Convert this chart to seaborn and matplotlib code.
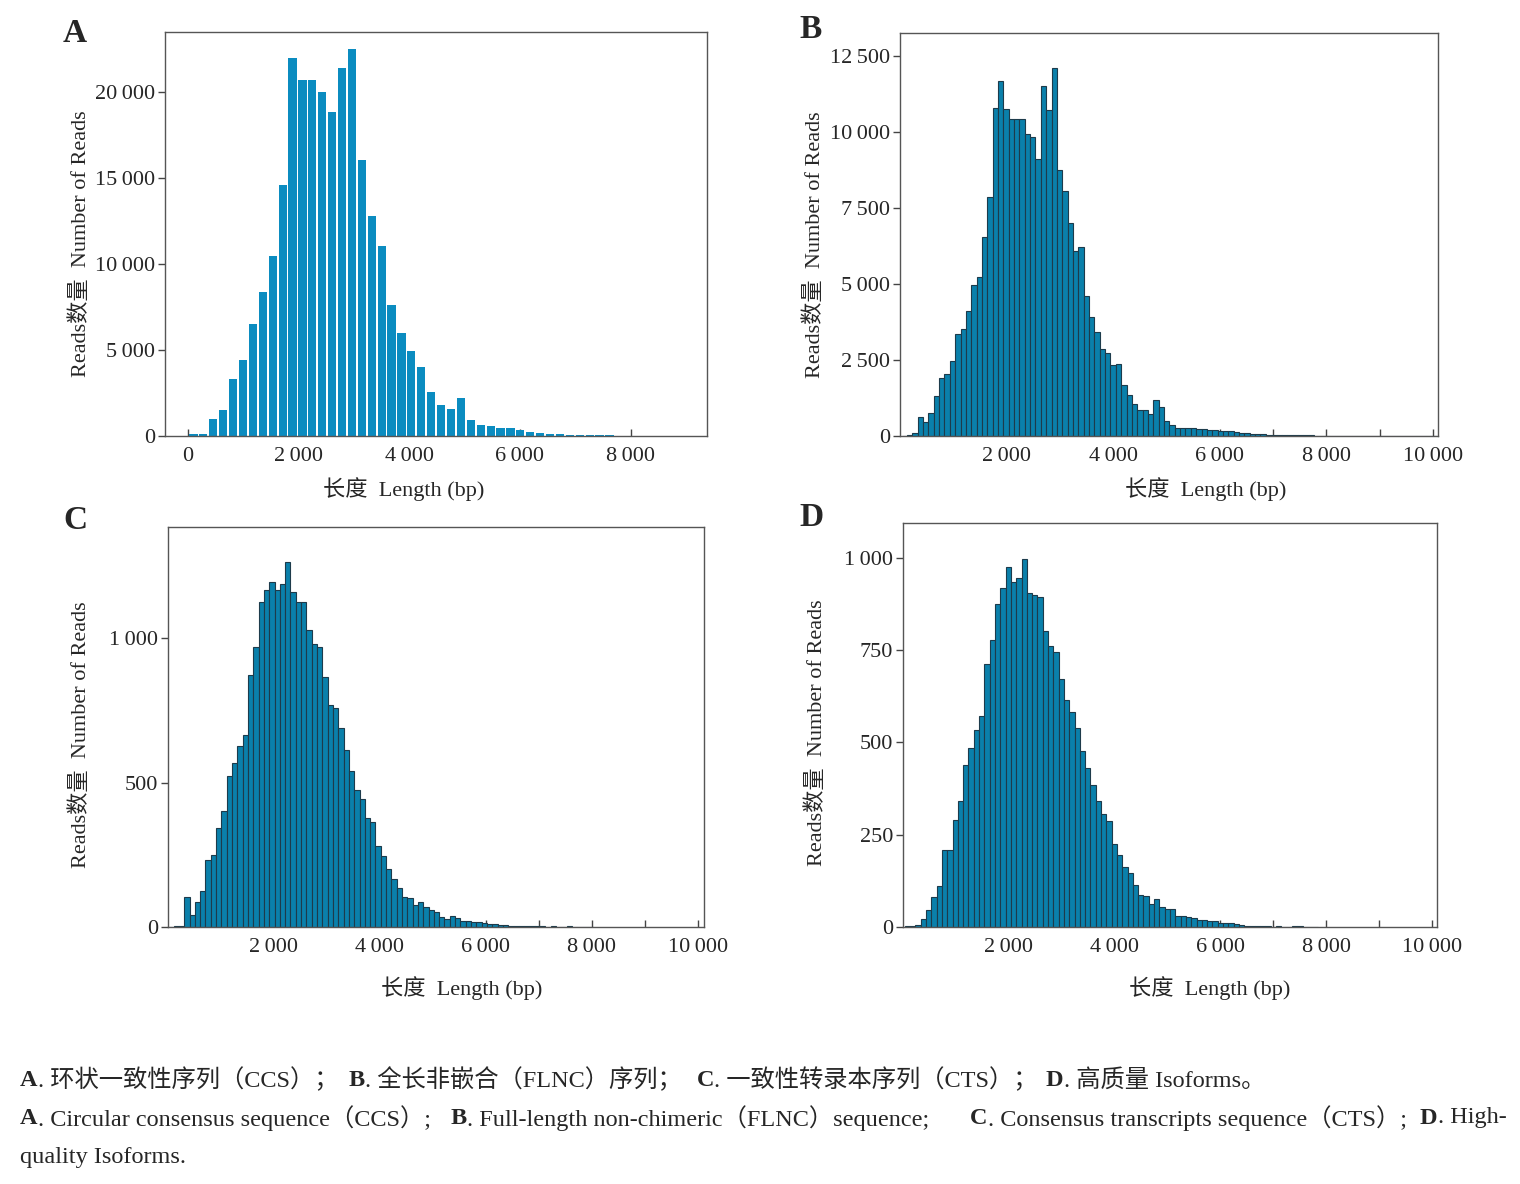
import numpy as np
import pandas as pd
import matplotlib
matplotlib.use("Agg")
import matplotlib.pyplot as plt
import seaborn as sns

# --- data -----------------------------------------------------------------
# A: circular consensus sequences, bins of ~179 bp
a_start, a_width = 10, 179
a_counts = [117, 136, 974, 1519, 3312, 4422, 6526, 8396, 10461, 14610,
            21973, 20688, 20688, 19986, 18857, 21389, 22499, 16071, 12818, 11065,
            7636, 5980, 4967, 3993, 2532, 1792, 1597, 2201, 935, 623,
            604, 467, 467, 370, 214, 175, 136, 97, 78, 58,
            58, 39, 39]

# B: FLNC, bins of ~100 bp
b_start, b_width = 30, 100.5
b_counts = [10, 30, 110, 641, 453, 752, 1316, 1891, 2024, 2466,
            3340, 3517, 4103, 4955, 5231, 6536, 7864, 10784, 11668, 10761,
            10407, 10430, 10430, 9932, 9821, 9102, 11502, 10706, 12111, 8737,
            8041, 7001, 6083, 6227, 4612, 3926, 3406, 2876, 2732, 2334,
            2356, 1670, 1338, 1062, 863, 863, 730, 1194, 940, 498,
            365, 277, 277, 277, 254, 232, 230, 200, 210, 180,
            160, 150, 120, 100, 90, 70, 60, 50, 45, 40,
            35, 30, 25, 25, 20, 30, 20, 15, 10, 10,
            8, 6, 5, 5, 4, 3, 3, 2, 2, 2,
            1, 1, 0, 1, 0, 0, 1, 0, 0, 1]

# C: consensus transcripts
c_start, c_width = 25, 100
c_counts = [0, 4, 4, 104, 43, 87, 124, 231, 251, 343,
            401, 522, 568, 628, 666, 874, 970, 1125, 1169, 1194,
            1167, 1190, 1264, 1160, 1127, 1127, 1030, 981, 970, 865,
            770, 759, 690, 614, 542, 476, 444, 378, 363, 280,
            247, 201, 166, 135, 104, 100, 77, 87, 68, 58,
            52, 33, 28, 37, 31, 22, 20, 18, 16, 15,
            12, 10, 8, 6, 5, 4, 3, 3, 2, 2,
            3, 1, 2, 1, 1, 2, 1, 0, 1, 0]

# D: high-quality isoforms
d_start, d_width = 50, 100
d_counts = [2, 4, 6, 22, 47, 81, 112, 208, 208, 291,
            342, 438, 485, 534, 571, 711, 777, 876, 917, 976,
            933, 946, 996, 905, 900, 894, 801, 760, 746, 672,
            616, 582, 539, 477, 430, 385, 342, 305, 286, 226,
            195, 163, 145, 113, 86, 83, 63, 76, 54, 49,
            49, 29, 29, 27, 24, 20, 18, 16, 16, 12,
            10, 12, 8, 6, 4, 3, 3, 2, 2, 1,
            2, 1, 1, 2, 2, 1, 0, 1]

a_yticks = [0, 5000, 10000, 15000, 20000]
b_yticks = [0, 2500, 5000, 7500, 10000, 12500]
c_yticks = [0, 500, 1000]
d_yticks = [0, 250, 500, 750, 1000]

xlabel = "长度  Length (bp)"
ylabel = "Reads数量  Number of Reads"

sns.set_theme(style="white")
plt.rcParams["font.family"] = ["Liberation Serif", "Noto Sans CJK SC", "DejaVu Sans"]
plt.rcParams["axes.edgecolor"] = "#555555"
plt.rcParams["axes.linewidth"] = 1.0

fig = plt.figure(figsize=(15.2, 11.84), dpi=100)
W, H = 1520, 1184


def box(l, r, t, b):
    return [l / W, 1 - b / H, (r - l) / W, (b - t) / H]


def fmt(v):
    return f"{v:,}".replace(",", "\u2009")


def draw(ax, start, width, counts, bars):
    n = len(counts)
    centers = start + width * (np.arange(n) + 0.5)
    df = pd.DataFrame({"length": centers, "count": np.asarray(counts, dtype=float)})
    kw = dict(data=df, x="length", weights="count", binwidth=width,
              binrange=(start, start + width * n), ax=ax, alpha=1)
    if bars == "gap":
        sns.histplot(**kw, shrink=0.83, color="#0b8cc0", edgecolor="none", linewidth=0)
    else:
        sns.histplot(**kw, color="#0a80ab", edgecolor="#1d3b4b", linewidth=0.8)


def style(ax, yticks, ylim, xlim, xticks, xlabels, lab_x, lab_y, ylab_x, ylab_y):
    ax.set_ylim(*ylim)
    ax.set_xlim(*xlim)
    ax.set_yticks(yticks, [fmt(v) for v in yticks])
    ax.set_xticks(xticks, xlabels)
    ax.tick_params(axis="y", direction="out", length=5, width=1, pad=2,
                   labelsize=16, color="#444444", left=True)
    ax.tick_params(axis="x", direction="in", length=5, width=1, pad=8,
                   labelsize=16, color="#444444", bottom=True)
    ax.set_xlabel(xlabel, fontsize=16)
    ax.set_ylabel(ylabel, fontsize=16)
    ax.xaxis.set_label_coords(lab_x, lab_y)
    ax.yaxis.set_label_coords(ylab_x, ylab_y)
    for s in ax.spines.values():
        s.set_visible(True)


axA = fig.add_axes(box(165, 707, 32, 436))
axB = fig.add_axes(box(900, 1438, 33, 436))
axC = fig.add_axes(box(168, 704, 527, 927))
axD = fig.add_axes(box(903, 1437, 523, 927))

draw(axA, a_start, a_width, a_counts, "gap")
draw(axB, b_start, b_width, b_counts, "edge")
draw(axC, c_start, c_width, c_counts, "edge")
draw(axD, d_start, d_width, d_counts, "edge")

a_xt = [0, 2000, 4000, 6000, 8000]
style(axA, a_yticks, (0, 23500), (-415, 9380), a_xt, [fmt(v) for v in a_xt],
      0.441, -0.102, -0.136, 0.475)

k_xt = list(range(1000, 10001, 1000))
k_lab = [fmt(v) if v % 2000 == 0 else "" for v in k_xt]
style(axB, b_yticks, (0, 13250), (0, 10095), k_xt, k_lab, 0.569, -0.102, -0.139, 0.475)
style(axC, c_yticks, (0, 1386), (20, 10110), k_xt, k_lab, 0.547, -0.122, -0.144, 0.48)
style(axD, d_yticks, (0, 1094), (15, 10085), k_xt, k_lab, 0.575, -0.122, -0.143, 0.48)

for letter, x, y in [("A", 75, 33), ("B", 811, 30), ("C", 75, 520), ("D", 811, 517)]:
    fig.text(x / W, 1 - y / H, letter, fontsize=24, fontweight="bold",
             ha="center", va="center")

# caption: each entry starts where it does in the original, letters in bold
caption = [
    (1080, [(20, "A", ". 环状一致性序列（CCS）；"),
            (349, "B", ". 全长非嵌合（FLNC）序列；"),
            (697, "C", ". 一致性转录本序列（CTS）；"),
            (1046, "D", ". 高质量 Isoforms。")]),
    (1118, [(20, "A", ". Circular consensus sequence（CCS）;"),
            (451, "B", ". Full-length non-chimeric（FLNC）sequence;"),
            (970, "C", ". Consensus transcripts sequence（CTS）;"),
            (1420, "D", ". High-")]),
    (1157, [(20, "", "quality Isoforms.")]),
]
renderer = fig.canvas.get_renderer()
for ypix, parts in caption:
    for x, letter, rest in parts:
        if letter:
            t = fig.text(x / W, 1 - ypix / H, letter, fontsize=17.5,
                         fontweight="bold", ha="left", va="center")
            x += t.get_window_extent(renderer).width
        fig.text(x / W, 1 - ypix / H, rest, fontsize=17.5, ha="left", va="center")

fig.savefig("out.png", dpi=100)
